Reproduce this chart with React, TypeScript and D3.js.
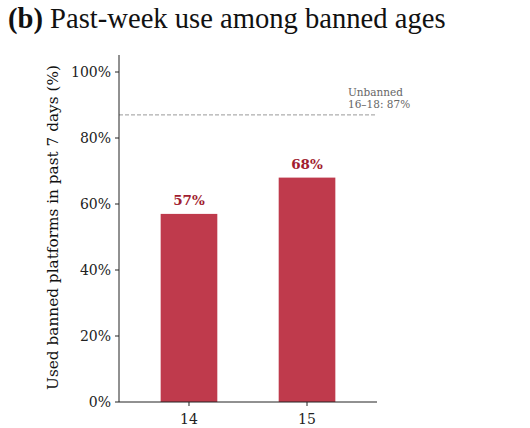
import { useEffect, useRef } from "react";
import * as d3 from "d3";

const ages = ["14", "15"];
const usePct = [57, 68];
const yTicks = [0, 20, 40, 60, 80, 100];
const unbannedPct = 87;

const W = 530, H = 428;
const serif = "DejaVu Serif";

const App = () => {
  const svgRef = useRef<SVGSVGElement>(null);

  useEffect(() => {
    if (!svgRef.current) return;
    const svg = d3.select(svgRef.current);
    svg.selectAll("*").remove();

    const m = { left: 119, right: 377, top: 55, bottom: 402 };
    const x = d3.scaleLinear().domain([-0.593, 1.593]).range([m.left, m.right]);
    const y = d3.scaleLinear().domain([0, 100]).range([m.bottom, 72]);
    const bw = x(0.24) - x(-0.24);

    // title
    const title = svg.append("text")
      .attr("x", 8).attr("y", 28)
      .attr("font-family", "Liberation Serif")
      .attr("font-size", "28.6px")
      .attr("fill", "#111");
    title.append("tspan").attr("font-weight", "bold").text("(b)");
    title.append("tspan").text(" Past-week use among banned ages");

    // reference line
    svg.append("line")
      .attr("x1", m.left).attr("x2", m.right)
      .attr("y1", y(unbannedPct)).attr("y2", y(unbannedPct))
      .attr("stroke", "#9a9a9a").attr("stroke-width", 1)
      .attr("stroke-dasharray", "4,2");

    const note = svg.append("text")
      .attr("x", 348).attr("y", 96)
      .attr("font-family", serif).attr("font-size", "10.5px")
      .attr("fill", "#666");
    note.append("tspan").attr("x", 348).text("Unbanned");
    note.append("tspan").attr("x", 348).attr("dy", "1.15em").text(`16–18: ${unbannedPct}%`);

    // bars
    svg.selectAll("rect.bar")
      .data(usePct)
      .join("rect")
      .attr("class", "bar")
      .attr("x", (_, i) => x(i) - bw / 2)
      .attr("y", d => y(d))
      .attr("width", bw)
      .attr("height", d => m.bottom - y(d))
      .attr("fill", "#bf3a4c");

    svg.selectAll("text.val")
      .data(usePct)
      .join("text")
      .attr("class", "val")
      .attr("x", (_, i) => x(i))
      .attr("y", d => y(d) - 9)
      .attr("text-anchor", "middle")
      .attr("font-family", serif)
      .attr("font-weight", "bold")
      .attr("font-size", "13.5px")
      .attr("fill", "#a11d30")
      .text(d => `${d}%`);

    // y axis
    const yAxis = svg.append("g");
    yAxis.append("line")
      .attr("x1", m.left).attr("x2", m.left)
      .attr("y1", m.top).attr("y2", m.bottom)
      .attr("stroke", "#222").attr("stroke-width", 1);
    yTicks.forEach(t => {
      yAxis.append("line")
        .attr("x1", m.left - 4).attr("x2", m.left)
        .attr("y1", y(t)).attr("y2", y(t))
        .attr("stroke", "#222");
      yAxis.append("text")
        .attr("x", m.left - 8).attr("y", y(t))
        .attr("dy", "0.35em")
        .attr("text-anchor", "end")
        .attr("font-family", serif).attr("font-size", "14px")
        .attr("fill", "#222")
        .text(`${t}%`);
    });

    // x axis
    const xAxis = svg.append("g");
    xAxis.append("line")
      .attr("x1", m.left).attr("x2", m.right)
      .attr("y1", m.bottom).attr("y2", m.bottom)
      .attr("stroke", "#222");
    ages.forEach((a, i) => {
      xAxis.append("line")
        .attr("x1", x(i)).attr("x2", x(i))
        .attr("y1", m.bottom).attr("y2", m.bottom + 4)
        .attr("stroke", "#222");
      xAxis.append("text")
        .attr("x", x(i)).attr("y", m.bottom + 22)
        .attr("text-anchor", "middle")
        .attr("font-family", serif).attr("font-size", "14px")
        .attr("fill", "#222")
        .text(a);
    });

    svg.append("text")
      .attr("transform", `translate(52.6,227.5) rotate(-90)`)
      .attr("text-anchor", "middle")
      .attr("dy", "0.35em")
      .attr("font-family", serif).attr("font-size", "15.3px")
      .attr("fill", "#111")
      .text("Used banned platforms in past 7 days (%)");
  }, []);

  return (
    <svg
      ref={svgRef}
      width={W}
      height={H}
      style={{ position: "absolute", left: 0, top: 0, background: "#fff" }}
    />
  );
};

export default App;
